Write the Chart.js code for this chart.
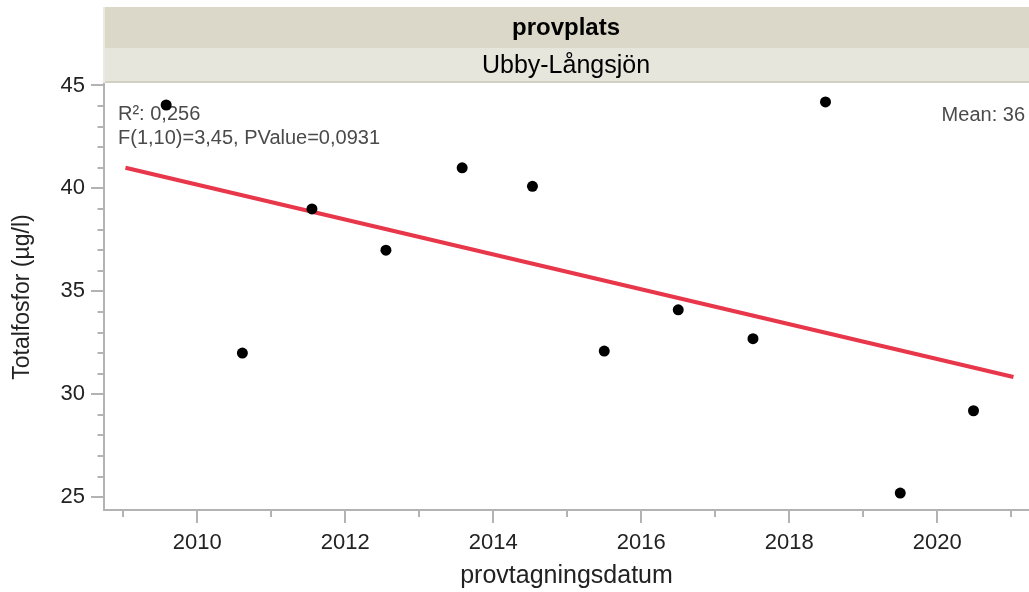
<!DOCTYPE html>
<html><head><meta charset="utf-8">
<script src="https://cdn.jsdelivr.net/npm/chart.js@4.4.0/dist/chart.umd.min.js"></script>
<style>html,body{margin:0;padding:0;background:#fff;overflow:hidden}#wrap{width:1029px;height:592px;position:relative}</style>
</head><body><div id="wrap"><canvas id="c" width="1029" height="592"></canvas></div>
<script>
const sampleYears = [2009.58, 2010.61, 2011.55, 2012.55, 2013.58, 2014.53, 2015.50, 2016.50, 2017.51, 2018.49, 2019.50, 2020.49];
const totalP = [44.05, 32.0, 39.0, 37.0, 41.0, 40.1, 32.1, 34.1, 32.7, 44.2, 25.2, 29.2];
const fitYears = [2009.03, 2021.03];
const fitValues = [41.0, 30.84];
const xTickYears = [2010, 2012, 2014, 2016, 2018, 2020];
const yTickValues = [25, 30, 35, 40, 45];
const headerTitle = 'provplats';
const headerGroup = 'Ubby-Långsjön';
const statLines = ['R²: 0,256', 'F(1,10)=3,45, PValue=0,0931'];
const meanLabel = 'Mean: 36';
const xTitle = 'provtagningsdatum';
const yTitle = 'Totalfosfor (µg/l)';

const FONT = '"Liberation Sans", Arial, Helvetica, sans-serif';

const headerPlugin = {
  id: 'header',
  beforeDraw(chart) {
    const ctx = chart.ctx, a = chart.chartArea;
    const l = a.left - 1, r = chart.width;
    ctx.save();
    ctx.fillStyle = '#dbd8c9';
    ctx.fillRect(l, 7, r - l, 41);
    ctx.fillStyle = '#e7e6dd';
    ctx.fillRect(l, 48, r - l, 35);
    ctx.fillStyle = '#d2d0c2';
    ctx.fillRect(l, 81, r - l, 2);
    ctx.fillStyle = '#eceae0';
    ctx.fillRect(l, 7, 2, 76);
    ctx.fillStyle = '#000';
    ctx.textAlign = 'center';
    ctx.textBaseline = 'middle';
    const cx = (l + r) / 2;
    ctx.font = 'bold 24px ' + FONT;
    ctx.fillText(headerTitle, cx, 28);
    ctx.font = '25px ' + FONT;
    ctx.fillText(headerGroup, cx, 66);
    ctx.restore();
  },
  beforeDatasetsDraw(chart) {
    const ctx = chart.ctx;
    ctx.save();
    ctx.fillStyle = '#4a4a4a';
    ctx.font = '20px ' + FONT;
    ctx.textBaseline = 'middle';
    ctx.textAlign = 'left';
    ctx.fillText(statLines[0], 118, 114);
    ctx.fillText(statLines[1], 118, 138);
    ctx.textAlign = 'right';
    ctx.fillText(meanLabel, 1025, 115);
    ctx.restore();
  },
  afterDraw(chart) {
    const ctx = chart.ctx, xs = chart.scales.x, ys = chart.scales.y, a = chart.chartArea;
    ctx.save();
    ctx.strokeStyle = '#b3b3b3';
    ctx.lineWidth = 2;
    ctx.beginPath();
    for (let yr = Math.ceil(xs.min); yr <= Math.floor(xs.max); yr++) {
      const px = Math.round(xs.getPixelForValue(yr));
      const len = xTickYears.includes(yr) ? 13 : 7;
      ctx.moveTo(px, a.bottom); ctx.lineTo(px, a.bottom + len);
    }
    for (let v = Math.ceil(ys.min); v <= Math.floor(ys.max); v++) {
      const py = Math.round(ys.getPixelForValue(v));
      const len = yTickValues.includes(v) ? 13 : 6.5;
      ctx.moveTo(a.left, py); ctx.lineTo(a.left - len, py);
    }
    ctx.stroke();
    ctx.restore();
  }
};

const points = sampleYears.map((x, i) => ({x, y: totalP[i]}));
const fit = fitYears.map((x, i) => ({x, y: fitValues[i]}));
const isLabelled = (v, list) => Math.abs(v - Math.round(v)) < 1e-6 && list.includes(Math.round(v));

new Chart(document.getElementById('c'), {
  type: 'scatter',
  data: {
    datasets: [
      {type: 'line', data: fit, borderColor: '#e8374a', borderWidth: 4, pointRadius: 0, fill: false, order: 2},
      {data: points, backgroundColor: '#000', borderColor: '#000', pointRadius: 5.5, borderWidth: 0, order: 1}
    ]
  },
  options: {
    responsive: false,
    animation: false,
    devicePixelRatio: 1,
    layout: {autoPadding: false, padding: {top: 84, left: 0, right: 0, bottom: 0}},
    plugins: {legend: {display: false}, tooltip: {enabled: false}},
    scales: {
      x: {
        type: 'linear', min: 2008.74, max: 2021.24,
        afterFit(s) { s.height = 82; s.paddingLeft = 0; s.paddingRight = 0; },
        grid: {display: false, drawTicks: false},
        border: {display: true, color: '#b3b3b3', width: 2},
        ticks: {
          stepSize: 1, autoSkip: false, includeBounds: false, maxRotation: 0, padding: 20,
          color: '#222', font: {family: FONT, size: 22},
          callback: v => isLabelled(v, xTickYears) ? String(Math.round(v)) : ''
        },
        title: {display: true, text: xTitle, color: '#222', font: {family: FONT, size: 25}, padding: {top: 0, bottom: 1}}
      },
      y: {
        type: 'linear', min: 24.38, max: 45.07,
        afterFit(s) { s.width = 104; s.paddingTop = 0; s.paddingBottom = 0; },
        grid: {display: false, drawTicks: false},
        border: {display: true, color: '#b3b3b3', width: 2},
        ticks: {
          stepSize: 1, autoSkip: false, includeBounds: false, padding: 19,
          color: '#222', font: {family: FONT, size: 22},
          callback: v => isLabelled(v, yTickValues) ? String(Math.round(v)) : ''
        },
        title: {display: true, text: yTitle, color: '#222', font: {family: FONT, size: 23}, padding: {top: 9, bottom: 0}}
      }
    }
  },
  plugins: [headerPlugin]
});
</script></body></html>
